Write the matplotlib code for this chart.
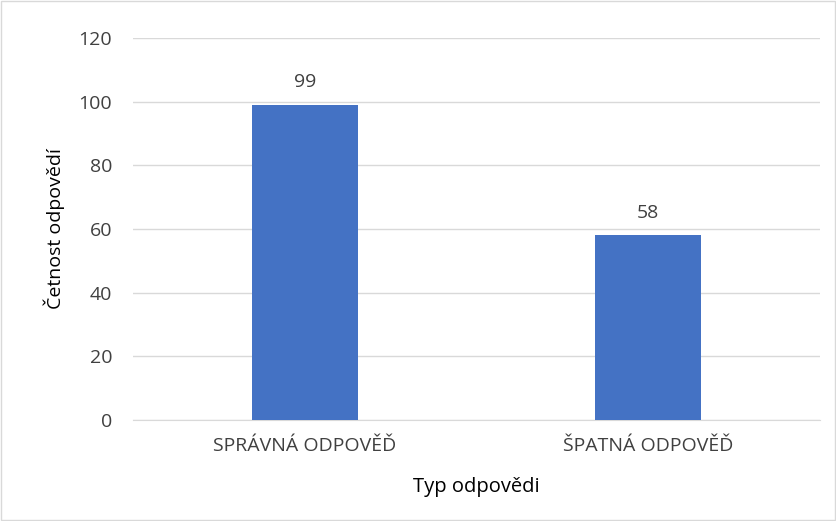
import matplotlib
matplotlib.use("Agg")
import matplotlib.pyplot as plt

categories = ["SPRÁVNÁ ODPOVĚĎ", "ŠPATNÁ ODPOVĚĎ"]
values = [99, 58]
yticks = [0, 20, 40, 60, 80, 100, 120]

plt.rcParams['font.family'] = ['Open Sans', 'DejaVu Sans']

fig = plt.figure(figsize=(8.37, 5.21), dpi=100)
fig.patch.set_facecolor('white')
# outer border
fig.add_artist(plt.Rectangle((0.001, 0.001), 0.997, 0.997, transform=fig.transFigure,
                             fill=False, edgecolor='#d9d9d9', linewidth=1))

ax = fig.add_axes([0.1589, 0.1939, 0.8208, 0.7332])
x = range(len(categories))
bars = ax.bar(x, values, width=0.31, color='#4472C4', zorder=3)
for b, v in zip(bars, values):
    ax.text(b.get_x() + b.get_width() / 2, v + 4.3, str(v), ha='center', va='bottom',
            fontsize=14, color='#404040')

ax.set_xlim(-0.5, len(categories) - 0.5)
ax.set_ylim(0, 120)
ax.set_yticks(yticks)
ax.set_xticks(list(x))
ax.set_xticklabels(categories)
ax.grid(axis='y', color='#d9d9d9', linewidth=1, zorder=0)
for s in ['top', 'right', 'left']:
    ax.spines[s].set_visible(False)
ax.spines['bottom'].set_color('#d9d9d9')
ax.tick_params(axis='both', length=0, labelsize=14, colors='#404040')
ax.tick_params(axis='y', pad=15)
ax.tick_params(axis='x', pad=12)
ax.set_ylabel('Četnost odpovědí', fontsize=14, color='#000000', labelpad=10)
ax.set_xlabel('Typ odpovědi', fontsize=14.5, color='#000000', labelpad=16)

fig.savefig('out.png', dpi=100, facecolor='white')
